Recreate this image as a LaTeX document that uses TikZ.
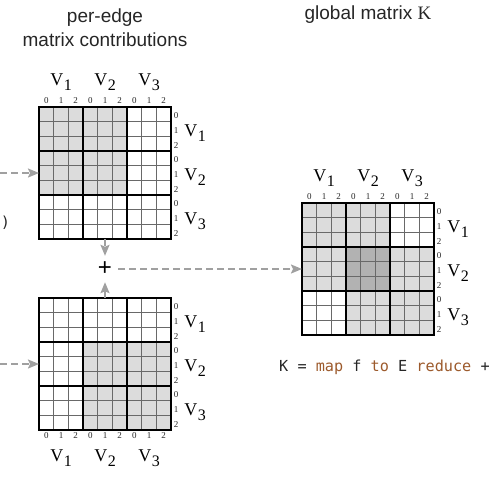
\documentclass[tikz,border=0pt]{standalone}
\usepackage{fontspec}
\setmainfont{Liberation Serif}
\newfontfamily\titlefont{Liberation Sans}
\newfontfamily\codefont{DejaVu Sans Mono}
\usetikzlibrary{arrows.meta}

\definecolor{cellgray}{RGB}{220,220,220}
\definecolor{celldark}{RGB}{178,178,178}
\definecolor{flowgray}{RGB}{160,160,160}
\definecolor{gridgray}{RGB}{105,105,105}
\definecolor{inkgray}{RGB}{38,38,38}
\definecolor{codebrown}{RGB}{156,90,44}

\newcommand\vlab[1]{V\kern0.5pt\raisebox{-4.7pt}{\fontsize{16}{16}\selectfont #1}}

\tikzset{
    matbox/.style={minimum size=132pt, inner sep=0pt, outer sep=0pt},
    flow/.style={draw=flowgray, line width=1.8pt, dash pattern=on 7pt off 4pt,
        -{Stealth[length=11pt, width=9pt, inset=2pt]}},
    cellline/.style={draw=gridgray, line width=0.8pt},
    blockline/.style={draw=black, line width=2.2pt},
    idx/.style={font=\fontsize{9}{9}\selectfont, text=inkgray, inner sep=0pt},
    vlabel/.style={font=\fontsize{18}{18}\selectfont, inner sep=0pt},
    title/.style={font=\titlefont\fontsize{19}{24}\selectfont, text=inkgray, align=center},
    codetext/.style={font=\codefont\fontsize{15.2}{15.2}\selectfont, text=inkgray, inner sep=0pt},
}

\begin{document}
\begin{tikzpicture}[x=1pt, y=-1pt]
    \useasboundingbox (0,0) rectangle (495,483);

    % titles
    \node (titleA) [title] at (105,27.5) {per-edge\\matrix contributions};
    \node (titleK) [title] at (368,15) {global matrix {\rmfamily K}};

    % the three matrices
    \node (contribA) [matbox] at (105,173) {};
    \node (contribB) [matbox] at (105,364) {};
    \node (globalK) [matbox] at (368,269) {};

    \fill [cellgray]
        (contribA.north west) rectangle ++(88,88)
        ;
    \fill [cellgray]
        ([shift={(44,44)}]contribB.north west) rectangle ++(88,88)
        ;
    \fill [cellgray]
        (globalK.north west) rectangle (globalK.south east)
        ;
    \fill [white]
        ([shift={(88,0)}]globalK.north west) rectangle ++(44,44)
        ([shift={(0,88)}]globalK.north west) rectangle ++(44,44)
        ;
    \fill [celldark]
        ([shift={(44,44)}]globalK.north west) rectangle ++(44,44)
        ;

    \foreach \m in {contribA,contribB,globalK} {
        \begin{scope}[shift={(\m.north west)}]
            \foreach \i in {1,...,8} {
                \draw [cellline] (\i*44/3,0) -- (\i*44/3,132);
                \draw [cellline] (0,\i*44/3) -- (132,\i*44/3);
            }
            \foreach \i in {44,88} {
                \draw [blockline] (\i,0) -- (\i,132);
                \draw [blockline] (0,\i) -- (132,\i);
            }
            \draw [blockline] (0,0) rectangle (132,132);
            % row labels
            \foreach \v [count=\k from 0] in {1,2,3} {
                \node [vlabel] at (156,26+44*\k) {\vlab{\v}};
                \foreach \d in {0,1,2}
                    \node [idx] at (137,44*\k+44/3*\d+22/3+1.5) {\d};
            }
        \end{scope}
    }

    % column labels, above or below
    \foreach \m/\dy/\vy in {contribA/-6/-25, globalK/-6/-25, contribB/138/160} {
        \begin{scope}[shift={(\m.north west)}]
            \foreach \v [count=\k from 0] in {1,2,3} {
                \node [vlabel] at (22+44*\k,\vy) {\vlab{\v}};
                \foreach \d in {0,1,2}
                    \node [idx] at (44*\k+44/3*\d+22/3,\dy) {\d};
            }
        \end{scope}
    }

    % summing
    \node (plus) [circle, minimum size=26pt, inner sep=0pt,
        font=\titlefont\fontsize{24}{24}\selectfont] at (105,269) {+};

    \coordinate (feedA) at (0,173);
    \coordinate (feedB) at (0,364);

    \draw [flow]
        (feedA) -- (contribA.west)
        ;
    \draw [flow]
        (feedB) -- (contribB.west)
        ;
    \draw [flow]
        (contribA.south) -- (plus.north)
        ;
    \draw [flow]
        (contribB.north) -- (plus.south)
        ;
    \draw [flow]
        (plus.east) -- (globalK.west)
        ;

    % code
    \node (cut) [codetext] at (5.5,223) {)};
    \node (code) [codetext, anchor=west] at (279,367)
        {K = \textcolor{codebrown}{map} f \textcolor{codebrown}{to} E \textcolor{codebrown}{reduce} +};
\end{tikzpicture}
\end{document}
